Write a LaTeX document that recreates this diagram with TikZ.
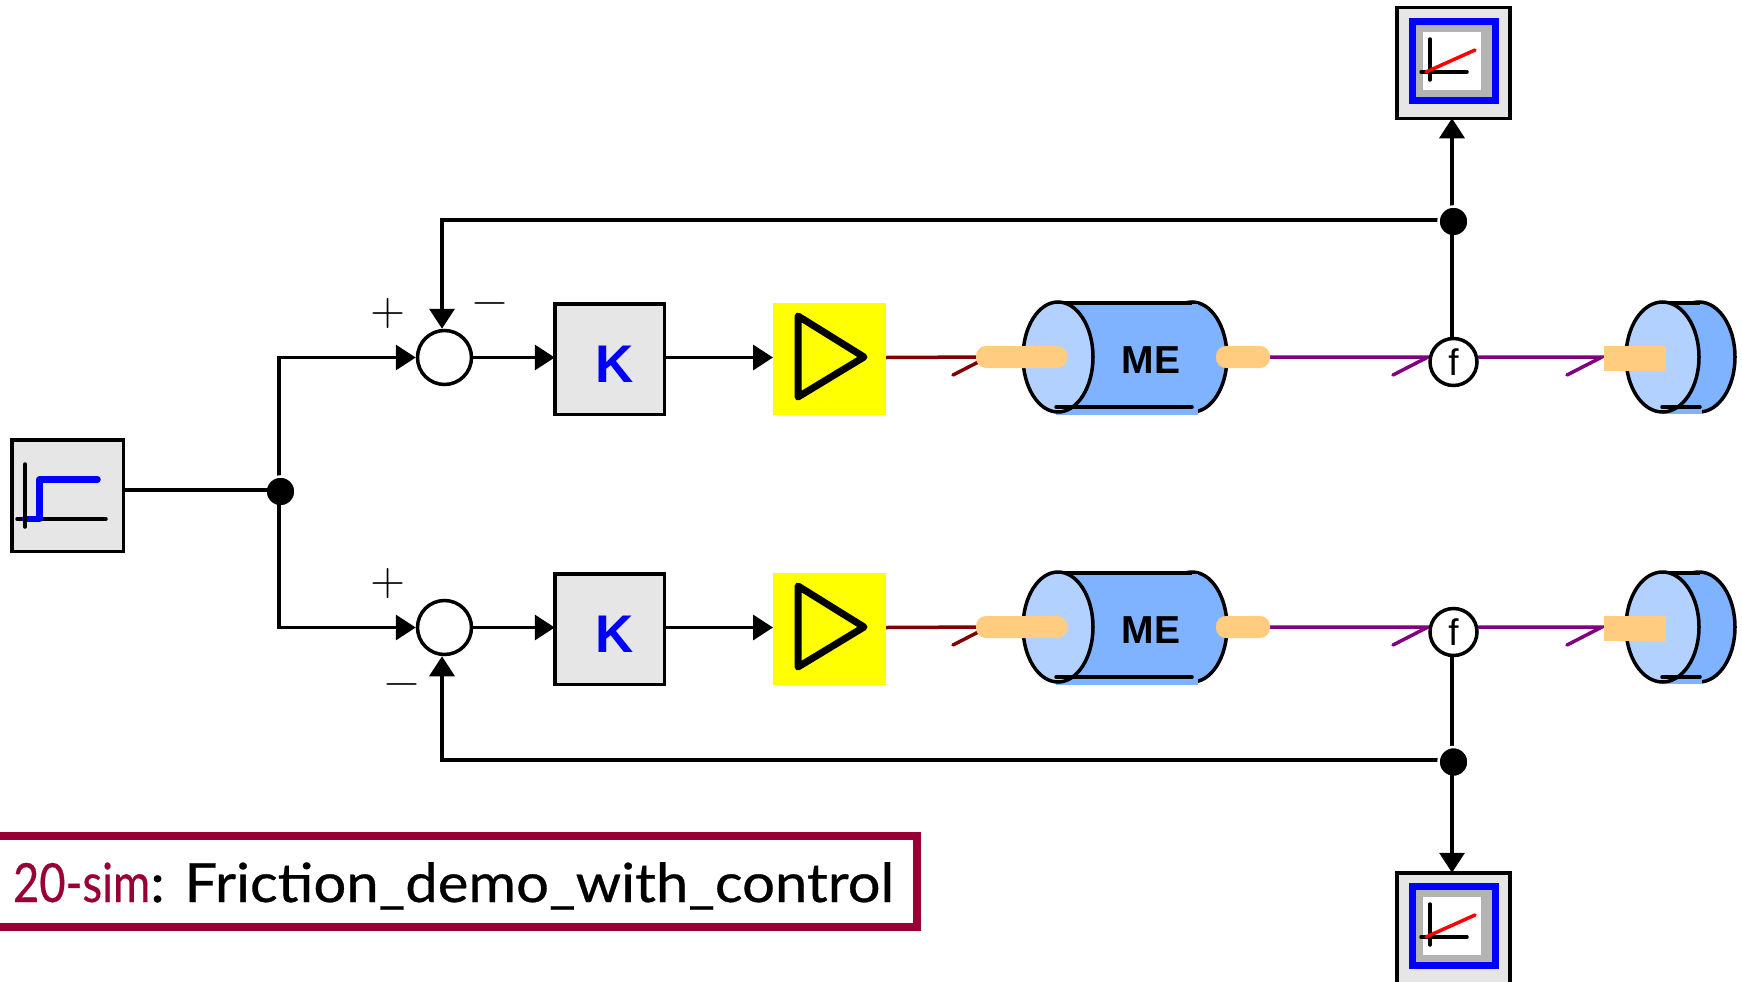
\documentclass[tikz,border=0pt]{standalone}
\usepackage{fontspec}
\usepackage{graphicx}
\setmainfont{Liberation Sans}
\newfontfamily\titlefont[FakeBold=0.5]{Lato}
\newfontfamily\signfont{Latin Modern Sans}
\usetikzlibrary{arrows.meta,backgrounds}
\definecolor{boxgray}{HTML}{E6E6E6}
\definecolor{scopegray}{HTML}{B3B3B3}
\definecolor{drum}{HTML}{80B3FF}
\definecolor{drumface}{HTML}{B3D1FF}
\definecolor{shaft}{HTML}{FFCC80}
\definecolor{bondpurple}{HTML}{800080}
\definecolor{bondred}{HTML}{800000}
\definecolor{frame}{HTML}{990033}
\definecolor{ampyellow}{HTML}{FFFF00}
\definecolor{pureblue}{HTML}{0000FF}
\definecolor{purered}{HTML}{FF0000}
\tikzset{
  x=1pt,y=-1pt,
  every node/.style={inner sep=0pt,outer sep=0pt},
  sig/.style={line width=3.5pt,black,-{Triangle[length=20pt,width=25pt]}},
  sigplain/.style={line width=3.5pt,black},
  blockbox/.style={draw=black,line width=3.5pt,fill=boxgray,minimum width=109.5pt,minimum height=110.5pt},
  sumnode/.style={circle,draw=black,line width=3.5pt,fill=white,minimum size=54pt,outer sep=1.75pt},
  dot/.style={circle,fill=black,draw=white,line width=2.5pt,minimum size=30pt},
  fnode/.style={circle,draw=black,line width=3.5pt,fill=white,minimum size=47pt,outer sep=1.75pt,font=\fontsize{37pt}{37pt}\selectfont},
  signtext/.style={anchor=base,font=\signfont\fontsize{48pt}{48pt}\selectfont},
  bond/.style={line width=3.5pt,line cap=round,line join=miter},
  axis/.style={line width=3.5pt,black,line cap=round},
  shaftcap/.style={fill=shaft,rounded corners=10pt},
  drumedge/.style={draw=black,line width=3.5pt},
}
\begin{document}
\begin{tikzpicture}
\useasboundingbox (0,0) rectangle (1742,982);

% step source
\node[blockbox,minimum width=111.5pt,minimum height=111.5pt] (src) at (67.5,495.5) {};
\draw[axis] (17,519) -- (106,519);
\draw[line width=6.5pt,pureblue,line cap=round,line join=round] (25,519) -- (39.5,519) -- (39.5,479.5) -- (97.5,479.5);
\draw[axis] (25,464) -- (25,527);
\node[dot] (jsrc) at (280.5,491.5) {};

\foreach \r/\d in {a/0,b/270}{
\begin{scope}[shift={(0,\d)}]
  \node[sumnode] (sum\r) at (444.5,357.5) {};
  \node[blockbox] (gain\r) at (609.5,359) {};
  \node[font=\fontsize{53pt}{53pt}\selectfont\bfseries,text=pureblue] (k\r) at (615,364) {K};
  \node[fill=ampyellow,minimum width=113pt,minimum height=112pt] (amp\r) at (829.5,359) {};
  \draw[line width=7pt,line join=round] (798,316) -- (864,357) -- (798,397) -- cycle;
  % motor
  \fill[drum,draw=black,line width=3.5pt] (1192,357) ellipse [x radius=35pt,y radius=55pt];
  \fill[drum] (1056,304) rectangle (1198,415);
  \draw[line width=3.5pt] (1058,303) -- (1192,303);
  \draw[drumedge,fill=drumface] (1058,357) ellipse [x radius=35pt,y radius=55pt];
  \draw[line width=3.5pt,line cap=round] (1056,407) -- (1192,407);
  \node[font=\fontsize{39pt}{39pt}\selectfont\bfseries] (me\r) at (1151,360) {ME};
  \node[shaftcap,minimum width=91pt,minimum height=22pt] (capl\r) at (1021.5,357) {};
  \node[shaftcap,minimum width=54pt,minimum height=22pt] (capr\r) at (1243,357) {};
  \node[fnode] (f\r) at (1453.5,362) {f};
  % load
  \fill[drum,draw=black,line width=3.5pt] (1699,357) ellipse [x radius=36pt,y radius=55pt];
  \fill[drum] (1662,304) rectangle (1702,414);
  \draw[line width=3.5pt] (1662,303) -- (1700,303);
  \draw[drumedge,fill=drumface] (1662.5,357) ellipse [x radius=36.5pt,y radius=55pt];
  \draw[line width=3.5pt,line cap=round] (1662,407) -- (1700,407);
  \node[fill=shaft,minimum width=62pt,minimum height=25pt] (load\r) at (1635,358.5) {};
  % connectors of the row
  \coordinate (bm\r) at (988,357);
  \coordinate (bf\r) at (1428,357);
  \coordinate (bl\r) at (1602,357);
  \begin{pgfonlayer}{background}
    \draw[sig] (sum\r.east) -- (sum\r.east -| gain\r.west);
    \draw[sig] (sum\r.east -| gain\r.east) -- (sum\r.east -| amp\r.west);
    \draw[bond,bondred] (sum\r.east -| amp\r.east) -- (bm\r) -- ++(-35,18);
    \draw[bond,bondpurple] (capr\r.east) -- (bf\r) -- ++(-35,18);
    \draw[bond,bondpurple] (f\r.east |- bf\r) -- (bl\r) -- ++(-35,18);
  \end{pgfonlayer}
\end{scope}
}

% signs
\node[signtext] (pa) at (388,325) {+};
\node[signtext] (ma) at (490,315) {−};
\node[signtext] (pb) at (388,595) {+};
\node[signtext] (mb) at (402,696.5) {−};

% upper scope
\node[blockbox,minimum width=113pt,minimum height=110.5pt] (scopea) at (1453.5,63) {};
\fill[pureblue] (1408.5,18) rectangle (1499,104);
\fill[scopegray] (1416,25) rectangle (1491.5,97);
\fill[white] (1423,32) rectangle (1481,90);
\draw[axis] (1430,39) -- (1430,80);
\draw[axis] (1421,72) -- (1467,72);
\draw[axis,purered] (1426,72) -- (1475,50);
% lower scope
\node[blockbox,minimum width=113pt,minimum height=110.5pt] (scopeb) at (1453.5,928) {};
\fill[pureblue] (1408.5,883) rectangle (1499,969);
\fill[scopegray] (1416,890) rectangle (1491.5,962);
\fill[white] (1423,897) rectangle (1481,955);
\draw[axis] (1430,904) -- (1430,945);
\draw[axis] (1421,937) -- (1467,937);
\draw[axis,purered] (1426,937) -- (1475,915);

\node[dot] (jta) at (1453.5,221.5) {};
\node[dot] (jtb) at (1453.5,762) {};

\begin{pgfonlayer}{background}
  \draw[sig] ([xshift=-1.5pt]jsrc.center) |- (suma.west);
  \draw[sig] ([xshift=-1.5pt]jta.center) -- ([xshift=-1.5pt]scopea.south);
  \draw[sig] ([yshift=1.5pt]jta.center) -| ([xshift=-2.5pt]suma.north);
  \draw[sigplain] ([xshift=-1.5pt]fb.south) -- ([xshift=-1.5pt]jtb.center);
  \draw[sig] ([yshift=2pt]jtb.center) -| ([xshift=-2.5pt]sumb.south);
\end{pgfonlayer}
% these run up to the dots with no white gap
\draw[sigplain] ([yshift=1.5pt]jsrc.center -| src.east) -- ([yshift=1.5pt]jsrc.center);
\draw[sig] ([xshift=-1.5pt]jsrc.center) |- (sumb.west);
\draw[sigplain] ([xshift=-1.5pt]fa.north) -- ([xshift=-1.5pt]jta.center);
\draw[sig] ([xshift=-1.5pt]jtb.center) -- ([xshift=-1.5pt]scopeb.north);

% title
\draw[frame,line width=8pt] (-10,836) -- (917,836) -- (917,926.5) -- (-10,926.5);
\node[anchor=base west,font=\titlefont\fontsize{54pt}{54pt}\selectfont] (title) at (13,902)
  {\textcolor{frame}{\scalebox{.84}[1]{20-sim}}\scalebox{1.074}[1]{: Friction\_demo\_with\_control}};
\end{tikzpicture}
\end{document}
